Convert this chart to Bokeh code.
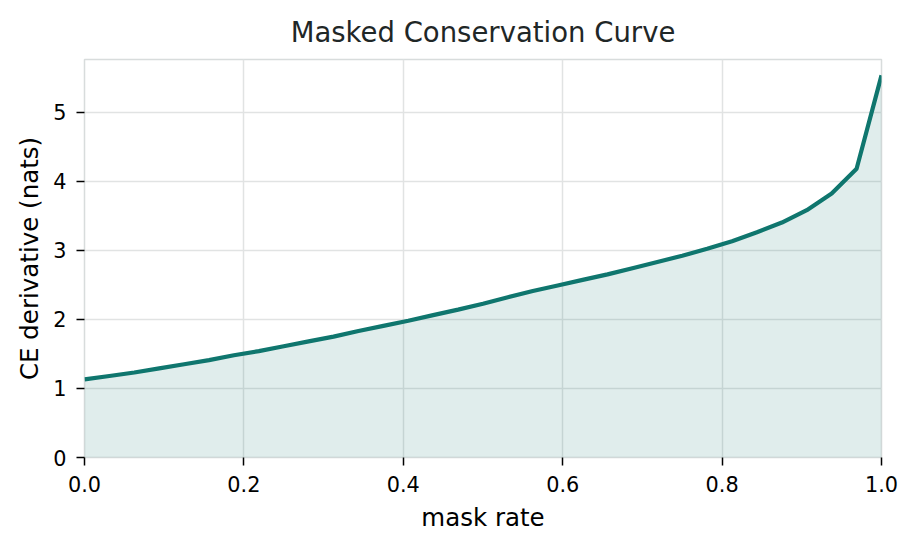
from bokeh.plotting import figure
from bokeh.models import Range1d, FixedTicker
from bokeh.embed import file_html
from bokeh.resources import INLINE

mask_rate = [0.0, 0.03125, 0.0625, 0.09375, 0.125, 0.15625, 0.1875, 0.21875,
             0.25, 0.28125, 0.3125, 0.34375, 0.375, 0.40625, 0.4375, 0.46875,
             0.5, 0.53125, 0.5625, 0.59375, 0.625, 0.65625, 0.6875, 0.71875,
             0.75, 0.78125, 0.8125, 0.84375, 0.875, 0.90625, 0.9375, 0.96875, 1.0]
ce_derivative = [1.13, 1.18, 1.23, 1.29, 1.35, 1.41, 1.48, 1.54,
                 1.61, 1.68, 1.75, 1.83, 1.905, 1.98, 2.06, 2.14,
                 2.225, 2.32, 2.41, 2.49, 2.57, 2.65, 2.74, 2.83,
                 2.92, 3.02, 3.13, 3.26, 3.40, 3.58, 3.82, 4.18, 5.53]
x_ticks = [0.0, 0.2, 0.4, 0.6, 0.8, 1.0]
y_ticks = [0, 1, 2, 3, 4, 5]

TEAL = "#0f766e"
FONT = "DejaVu Sans"

p = figure(width=901, height=534, output_backend="svg", toolbar_location=None,
           x_range=Range1d(0, 1), y_range=Range1d(0, 5.76),
           min_border_left=84, min_border_right=20, min_border_top=59, min_border_bottom=76,
           title="Masked Conservation Curve")

p.varea(x=mask_rate, y1=0, y2=ce_derivative, fill_color=TEAL, fill_alpha=0.13)
p.line(x=mask_rate, y=ce_derivative, line_color=TEAL, line_width=4.2)

p.title.text_font = FONT
p.title.text_font_size = "27.5px"
p.title.text_font_style = "normal"
p.title.text_color = "#1f2727"
p.title.align = "center"
p.title.standoff = 23

p.outline_line_color = "#d8dcdc"
p.outline_line_width = 1.5
p.background_fill_color = "white"
p.border_fill_color = "white"

for g in (p.xgrid, p.ygrid):
    g.grid_line_color = "#e1e3e3"
    g.grid_line_width = 1.5

p.xaxis.ticker = FixedTicker(ticks=x_ticks)
p.yaxis.ticker = FixedTicker(ticks=y_ticks)
p.xaxis.major_label_overrides = {t: f"{t:.1f}" for t in x_ticks}
p.yaxis.major_label_overrides = {t: f"{t}" for t in y_ticks}

p.xaxis.axis_label = "mask rate"
p.yaxis.axis_label = "CE derivative (nats)"

for ax in (p.xaxis, p.yaxis):
    ax.axis_line_color = None
    ax.major_tick_line_color = "black"
    ax.major_tick_line_width = 1.5
    ax.major_tick_out = 8
    ax.major_tick_in = 0
    ax.minor_tick_line_color = None
    ax.major_label_text_font = FONT
    ax.major_label_text_font_size = "20.8px"
    ax.major_label_text_color = "black"
    ax.axis_label_text_font = FONT
    ax.axis_label_text_font_size = "24.5px"
    ax.axis_label_text_font_style = "normal"
    ax.axis_label_text_color = "black"

p.xaxis.major_label_standoff = 10
p.yaxis.major_label_standoff = 10
p.xaxis.axis_label_standoff = 8
p.yaxis.axis_label_standoff = 6

open("out.html", "w").write(file_html(p, INLINE))
